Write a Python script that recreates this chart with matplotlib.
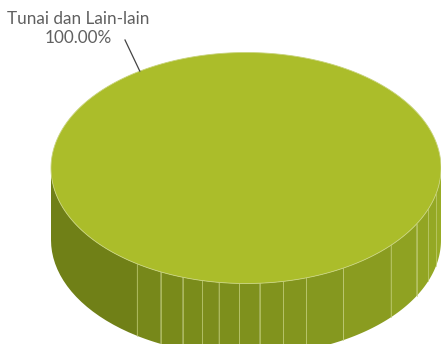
import numpy as np
import matplotlib
matplotlib.use('Agg')
from matplotlib import pyplot as plt
from matplotlib.patches import Polygon

# data
labels = ['Tunai dan Lain-lain']
values = [100.0]

# pie geometry (pixel space)
cx, cy = 246, 168
rx, ry = 195, 115.5
depth = 72
label_angle = 123  # degrees, where the leader line meets the rim
# angles (deg, 0 = left, 180 = right along the front) of the side facets
facet_edges = [0, 56, 64, 71, 77, 82, 88, 94, 101, 108, 120, 138, 151, 159, 167, 180]

top_color = '#abbd2a'
side_dark = np.array([0x6c, 0x7c, 0x16]) / 255
side_light = np.array([0x9a, 0xae, 0x26]) / 255

fig = plt.figure(figsize=(4.41, 3.44), dpi=100)
ax = fig.add_axes([0, 0, 1, 1])
ax.set_xlim(0, 441)
ax.set_ylim(344, 0)
ax.axis('off')


def rim(phi):
    # front rim point, phi in degrees from left (0) through bottom (90) to right (180)
    t = np.radians(phi)
    return cx - rx * np.cos(t), cy + ry * np.sin(t)


# side facets
for a0, a1 in zip(facet_edges[:-1], facet_edges[1:]):
    ph = np.linspace(a0, a1, 20)
    xs, ys = rim(ph)
    pts = list(zip(xs, ys)) + list(zip(xs[::-1], ys[::-1] + depth))
    f = (0.5 * (a0 + a1)) / 180
    col = side_dark + (side_light - side_dark) * f ** 1.3
    ax.add_patch(Polygon(pts, closed=True, facecolor=col, edgecolor='none'))
    if a0 > 0:
        x0, y0 = rim(a0)
        ax.plot([x0, x0], [y0, y0 + depth], color='#c4cf7a', lw=0.6, alpha=0.8)

# top face (single slice, total share)
share = values[0] / sum(values)
th = np.linspace(0, 2 * np.pi * share, 400)
ax.add_patch(Polygon(np.c_[cx + rx * np.cos(th), cy - ry * np.sin(th)],
                     closed=True, facecolor=top_color, edgecolor='#c9d47e', lw=0.6))

# label with leader line
t = np.radians(label_angle)
ex, ey = cx + rx * np.cos(t), cy - ry * np.sin(t)
ax.plot([125, ex], [40, ey], color='#444444', lw=0.9)
ax.text(78, 10.5, f'{labels[0]}\n{values[0]:.2f}%', ha='center', va='top',
        fontsize=12.3, color='#606060', family='Lato', linespacing=1.3)

fig.savefig('out.png', dpi=100)
